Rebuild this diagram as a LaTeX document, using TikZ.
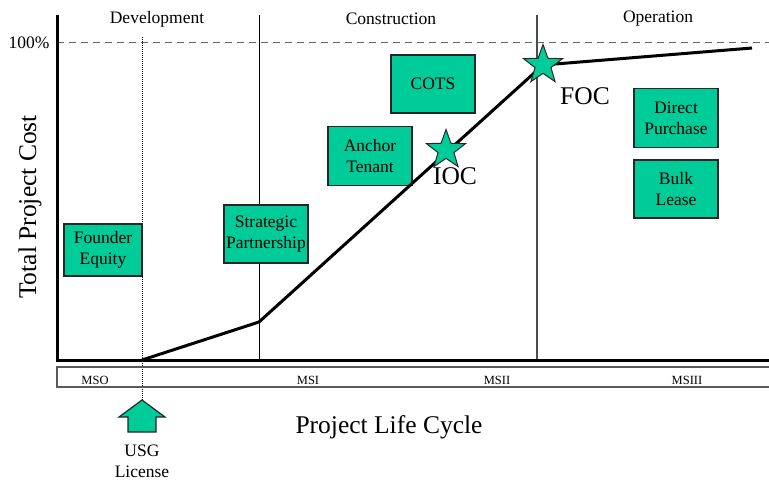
\documentclass[tikz,border=0pt]{standalone}
\usepackage{fontspec}
\setmainfont{Liberation Serif}
\usetikzlibrary{shapes.geometric}
\definecolor{fundgreen}{RGB}{0,204,153}

\tikzset{
  fund/.style={draw=black!85, line width=1.2pt, fill=fundgreen, minimum width=84pt,
    minimum height=58pt, inner sep=0pt, align=center, font=\fontsize{17.5}{21}\selectfont},
  milestone/.style={star, star points=5, star point ratio=2.45, minimum size=41pt,
    inner sep=0pt, draw=black!85, line width=1pt, fill=fundgreen},
  phase/.style={font=\fontsize{17.5}{20}\selectfont},
  stage/.style={font=\fontsize{12.5}{14}\selectfont},
  bigtext/.style={font=\fontsize{25.5}{30}\selectfont},
}

\begin{document}
\begin{tikzpicture}[x=1pt,y=-1pt]
  \useasboundingbox (0,0) rectangle (769,480);
  \coordinate (origin) at (57,360);
  \coordinate (ytop) at (57,15);
  \coordinate (xend) at (769,360);

  \draw[black!60, line width=0.9pt, dash pattern=on 7pt off 5pt] (57,42) coordinate (full) -- (769,42) coordinate (fullend);
  \node[phase, anchor=east] (pct) at (53,43) {100\%};
  \foreach \x/\name in {157/Development,391/Construction,658/Operation}
    \node[phase] (ph-\name) at (\x,19) {\name};

  \draw[black, line width=0.8pt] (259,15) coordinate (cstart) -- (259,360) coordinate (cbase);
  \draw[black!70, line width=1.3pt] (537,15) coordinate (ostart) -- (537,360) coordinate (obase);
  \draw[line width=0.8pt, dash pattern=on 1pt off 1pt] (142,37) coordinate (licensed) -- (142,400) coordinate (usgtip);

  \draw[line width=3pt] (ytop) -- (origin) -- (xend);
  \draw[black!65, line width=1.5pt] (57,367) rectangle (771,387);
  \foreach \x/\ms in {95/MSO,308/MSI,497/MSII,687/MSIII}
    \node[stage] (ms-\ms) at (\x,380) {\ms};

  \node[bigtext, rotate=90] (ylabel) at (30,207) {Total Project Cost};
  \node[bigtext] (xlabel) at (389,427) {Project Life Cycle};

  \draw[draw=black!85, line width=1.2pt, fill=fundgreen] (usgtip) -- (165,417) -- (156,417) -- (156,432)
    -- (128,432) -- (128,417) -- (119,417) -- cycle;
  \node[phase, align=center, font=\fontsize{17.5}{21}\selectfont] (usg) at (142,461) {USG\\License};

  \node[fund, minimum width=78pt, minimum height=52pt] (founder) at (103,250) {Founder\\Equity};
  \node[fund] (partner) at (266,234) {Strategic\\Partnership};
  \node[fund, minimum height=59pt] (anchor) at (370,156) {Anchor\\Tenant};
  \node[fund] (cots) at (433,84) {COTS};
  \node[fund, minimum height=59pt] (direct) at (676,118) {Direct\\Purchase};
  \node[fund] (bulk) at (676,189) {Bulk\\Lease};

  \coordinate (start) at (142,360);
  \coordinate (bend) at (259,322);
  \coordinate (ioc) at (446,150);
  \coordinate (foc) at (543,65);
  \coordinate (finish) at (752,48);
  \draw[line width=3pt, line join=round] (start) -- (bend) -- (foc) -- (finish);

  \node[milestone] (iocstar) at (ioc) {};
  \node[milestone] (focstar) at (foc) {};
  \node[bigtext] (ioclabel) at (455,176) {IOC};
  \node[bigtext] (foclabel) at (585,96) {FOC};
\end{tikzpicture}
\end{document}
